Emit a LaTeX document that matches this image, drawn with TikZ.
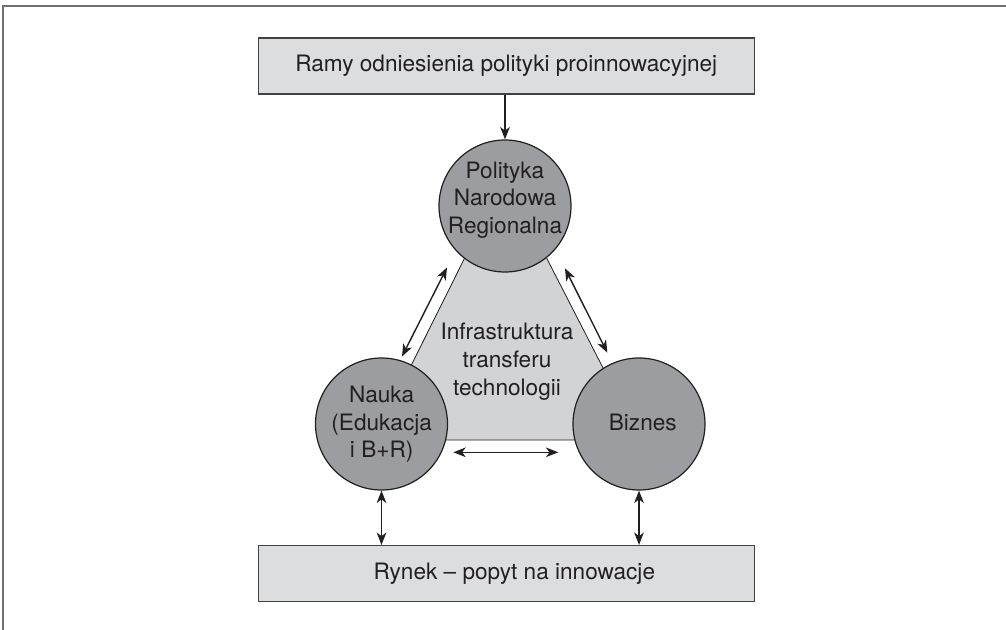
\documentclass[tikz,border=0pt]{standalone}
\usepackage{fontspec}
\setmainfont{TeX Gyre Heros}
\usetikzlibrary{arrows.meta,calc}
\definecolor{boxfill}{HTML}{DCDDDF}
\definecolor{trifill}{HTML}{D2D3D5}
\definecolor{circfill}{HTML}{9C9DA0}
\definecolor{framegray}{HTML}{707070}
\definecolor{ink}{HTML}{231F20}
\tikzset{
  tip/.tip={Stealth[length=6.2pt,width=4.8pt,inset=1.8pt]},
  panel/.style={draw=ink!85, line width=0.75pt, fill=boxfill,
    minimum width=248pt, minimum height=28pt, inner sep=0pt,
    font=\fontsize{11.3}{13.5}\selectfont, text=ink},
  actor/.style={circle, draw=ink, line width=0.6pt, fill=circfill,
    minimum size=66pt, inner sep=0pt},
  lbl/.style={align=center, font=\fontsize{11.3}{13.8}\selectfont,
    text=ink, inner sep=0pt, anchor=base},
  link/.style={tip-tip, line width=0.7pt, draw=ink},
  feed/.style={-tip, line width=0.7pt, draw=ink},
}
\begin{document}
\begin{tikzpicture}[x=0.5pt,y=-0.5pt]
\useasboundingbox (0,0) rectangle (1006,630);
% frame edges
\draw[framegray, line width=1pt] (3.3,630) -- (3.3,5.7) -- (1006,5.7);

% policy and market panels
\node[panel] (ramy) at (506.3,66) {Ramy odniesienia polityki proinnowacyjnej};
\node[panel] (rynek) at (506.3,573.7) {\hspace*{8pt}Rynek – popyt na innowacje};

% technology transfer triangle
\coordinate (tA) at (505,177);
\coordinate (tB) at (374,440);
\coordinate (tC) at (640,440);
\draw[ink, line width=0.4pt, fill=trifill] (tA) -- (tB) -- (tC) -- cycle;

% actors
\node[actor] (polityka) at (505,206) {};
\node[actor] (nauka) at (381.5,424) {};
\node[actor] (biznes) at (639,424) {};

% labels (anchored at the baseline of their last line)
\node[lbl] (politykaT) at (505,233.3) {Polityka\\Narodowa\\Regionalna};
\node[lbl] (infraT) at (507,395) {Infrastruktura\\transferu\\technologii};
\node[lbl] (naukaT) at (381.7,458) {Nauka\\(Edukacja\\i B+R)};
\node[lbl] (biznesT) at (642.8,430) {Biznes};

% arrow end points
\coordinate (lu) at (447,267.5);
\coordinate (ld) at (402,356.5);
\coordinate (ru) at (565,268.3);
\coordinate (rd) at (607.3,352.7);
\coordinate (hl) at (453.3,452.3);
\coordinate (hr) at (558.3,452.3);

% connectors
\draw[feed] (polityka.north |- ramy.south) -- (polityka.north);
\draw[link] (lu) -- (ld);
\draw[link] (ru) -- (rd);
\draw[link] (hl) -- (hr);
\draw[link] (nauka.south) -- (nauka.south |- rynek.north);
\draw[link] (biznes.south) -- (biznes.south |- rynek.north);
\end{tikzpicture}
\end{document}
